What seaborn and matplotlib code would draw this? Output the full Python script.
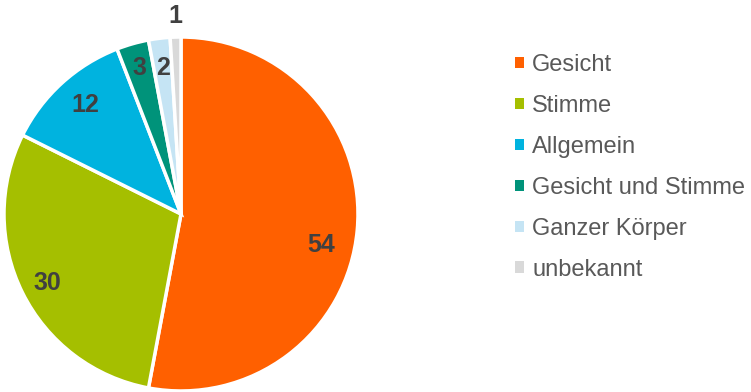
import numpy as np
import matplotlib
matplotlib.use("Agg")
import matplotlib.pyplot as plt
import seaborn as sns
from matplotlib.patches import Patch

# Data
categories = ["Gesicht", "Stimme", "Allgemein", "Gesicht und Stimme", "Ganzer Körper", "unbekannt"]
values = [54, 30, 12, 3, 2, 1]
colors = ["#FF6000", "#A5BF00", "#00B3DF", "#00937A", "#C5E4F4", "#D9D9D9"]

sns.set_theme(style="white")
plt.rcParams["font.family"] = ["Liberation Sans", "DejaVu Sans"]

fig = plt.figure(figsize=(7.51, 3.92), dpi=100)
ax = fig.add_axes([0.0053, 0.0026, 0.4714, 0.903])

wedges, _ = ax.pie(values, colors=colors, startangle=90, counterclock=False,
                   wedgeprops=dict(edgecolor="white", linewidth=2.5))
ax.set_aspect("equal")
ax.set_xlim(-1, 1)
ax.set_ylim(-1, 1)

# value labels at the middle of each wedge; the smallest one sits outside
label_dist = [0.81, 0.85, 0.82, 0.86, 0.83, 1.12]
angle_shift = [-7, 1, -1, 0, 0, 0]
for w, v, d, s in zip(wedges, values, label_dist, angle_shift):
    ang = np.deg2rad((w.theta1 + w.theta2) / 2 + s)
    ax.text(d * np.cos(ang), d * np.sin(ang), str(v), ha="center", va="center",
            fontsize=18, fontweight="bold", color="#404040", clip_on=False)

handles = [Patch(facecolor=c, edgecolor="none") for c in colors]
fig.legend(handles, categories, loc="upper left", bbox_to_anchor=(0.686, 0.862),
           frameon=False, fontsize=17, handlelength=0.36, handleheight=0.36,
           handletextpad=0.36, labelspacing=0.8, labelcolor="#595959",
           borderaxespad=0, borderpad=0)

fig.savefig("out.png", dpi=100)
